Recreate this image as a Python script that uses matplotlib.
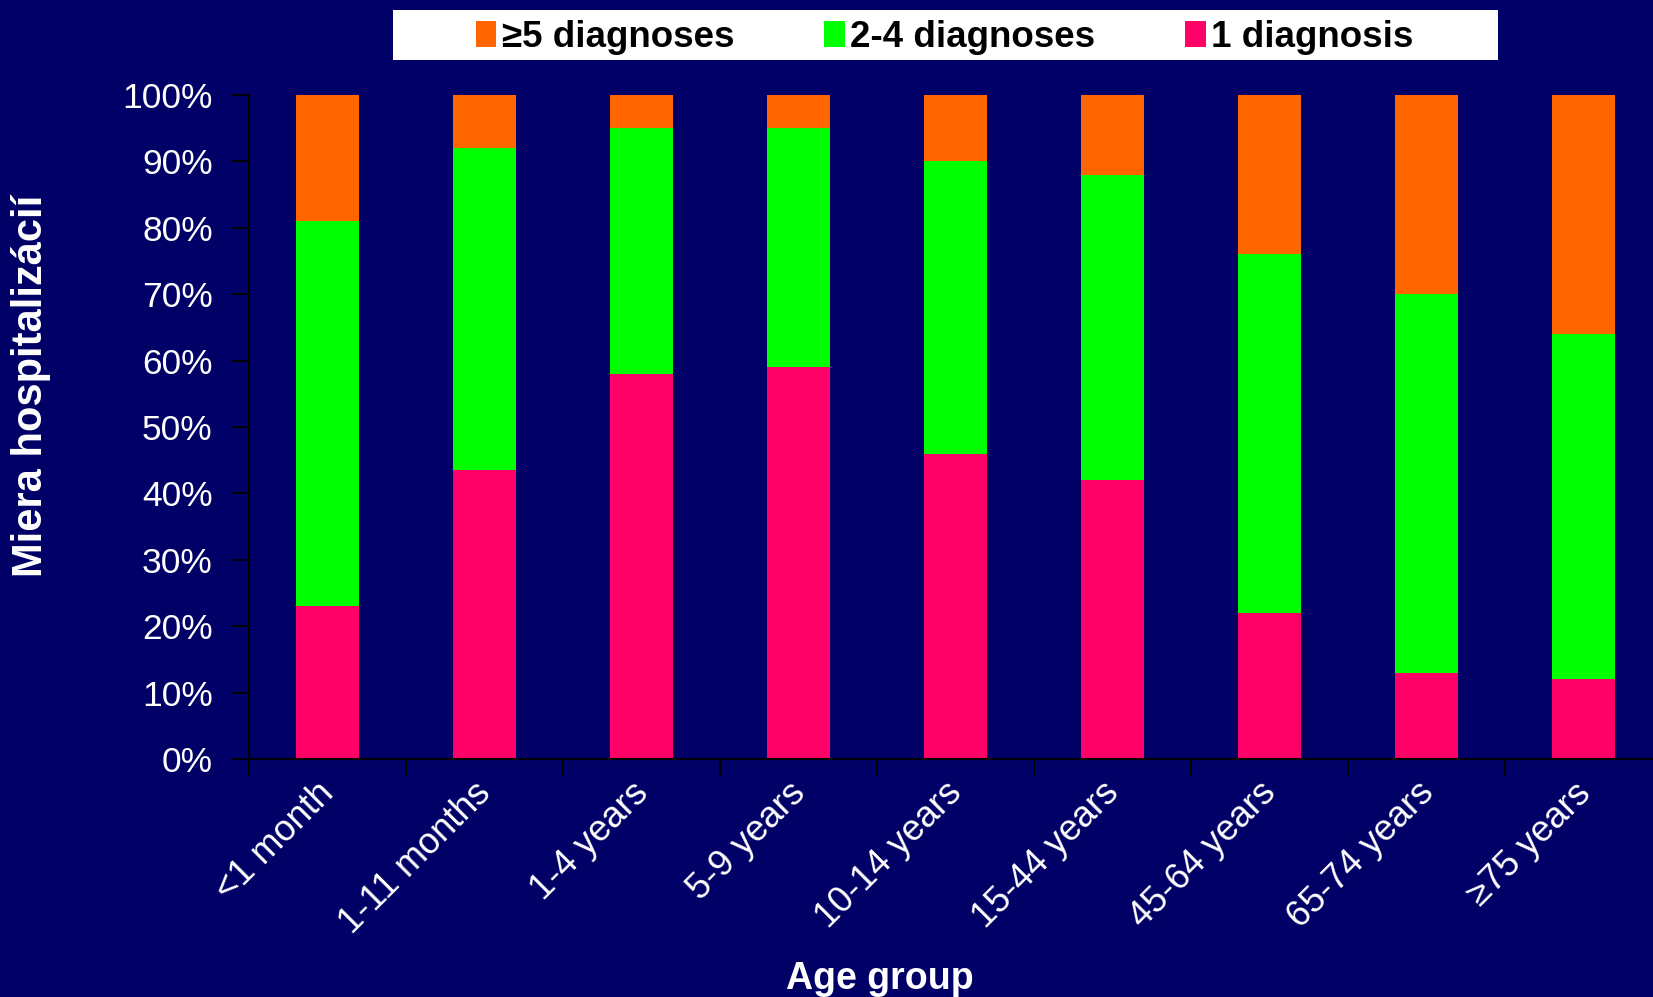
import matplotlib
matplotlib.use("Agg")
import matplotlib.pyplot as plt
import matplotlib.transforms as mtransforms
from matplotlib.patches import Patch, Rectangle
import numpy as np

plt.rcParams['font.family'] = ['Liberation Sans', 'DejaVu Sans']

categories = ["<1 month", "1-11 months", "1-4 years", "5-9 years", "10-14 years",
              "15-44 years", "45-64 years", "65-74 years", "\u226575 years"]
one_diag = [23, 43.5, 58, 59, 46, 42, 22, 13, 12]
two_four = [58, 48.5, 37, 36, 44, 46, 54, 57, 52]
five_plus = [19, 8, 5, 5, 10, 12, 24, 30, 36]
series_names = ["\u22655 diagnoses", "2-4 diagnoses", "1 diagnosis"]
yticks = [0, 10, 20, 30, 40, 50, 60, 70, 80, 90, 100]

BG = "#000066"
C_ONE = "#FF0066"
C_TWO = "#00FF00"
C_FIVE = "#FF6600"

W, H = 1653, 997
fig = plt.figure(figsize=(W / 100, H / 100), dpi=100, facecolor=BG)
ax = fig.add_axes([0.1505, 0.2387, 0.8552, 0.6661], facecolor=BG)

x = np.arange(len(categories))
w = 0.40
b1 = np.array(one_diag)
b2 = b1 + np.array(two_four)
ax.bar(x, one_diag, w, color=C_ONE, zorder=2)
ax.bar(x, two_four, w, bottom=b1, color=C_TWO, zorder=2)
ax.bar(x, five_plus, w, bottom=b2, color=C_FIVE, zorder=2)

ax.set_xlim(-0.5, len(categories) - 0.5)
ax.set_ylim(0, 100)

for s in ["top", "right"]:
    ax.spines[s].set_visible(False)
for s in ["left", "bottom"]:
    ax.spines[s].set_color("black")
    ax.spines[s].set_linewidth(1.5)

ax.set_yticks(yticks)
ax.set_yticklabels([f"{v}%" for v in yticks], color="white", fontsize=25.5)
ax.tick_params(axis="y", length=12, width=1.3, color="black", pad=14)

# boundaries as major ticks, labels at centers as minor ticks
ax.set_xticks(np.arange(-0.5, len(categories) - 0.4, 1.0))
ax.set_xticklabels([])
ax.tick_params(axis="x", which="major", length=12, width=1.3, color="black", direction="out")
ax.set_xticks(x, minor=True)
ax.set_xticklabels(categories, minor=True, rotation=45, ha="right", va="top",
                   rotation_mode="anchor", color="white", fontsize=26)
ax.tick_params(axis="x", which="minor", length=0, pad=12)
offset = mtransforms.ScaledTranslation(-11 / 100, 0, fig.dpi_scale_trans)
for lab in ax.get_xticklabels(minor=True):
    lab.set_transform(lab.get_transform() + offset)

fig.text(0.019, 0.613, "Miera hospitalizácií", rotation=90, ha="center", va="center",
         color="white", fontsize=30, fontweight="bold")
fig.text(0.532, 0.036, "Age group", ha="center", va="top",
         color="white", fontsize=27, fontweight="bold")

# legend box (white) and entries
bx0, bx1, by0, by1 = 393 / W, 1498 / W, 1 - 60 / H, 1 - 10.5 / H
fig.patches.append(Rectangle((bx0, by0), bx1 - bx0, by1 - by0, transform=fig.transFigure,
                             facecolor="white", edgecolor="none", zorder=1))
handles = [Patch(facecolor=C_FIVE), Patch(facecolor=C_TWO), Patch(facecolor=C_ONE)]
leg = fig.legend(handles, series_names, loc="center", bbox_to_anchor=(0.5715, 1 - 37.5 / H),
                 ncol=3, frameon=False,
                 prop={"weight": "bold", "size": 26.5}, handlelength=0.55, handleheight=0.7,
                 handletextpad=0.15, columnspacing=2.45, borderpad=0.2)
leg.set_zorder(3)
for t in leg.get_texts():
    t.set_color("black")

fig.savefig("out.png", dpi=100, facecolor=BG)
